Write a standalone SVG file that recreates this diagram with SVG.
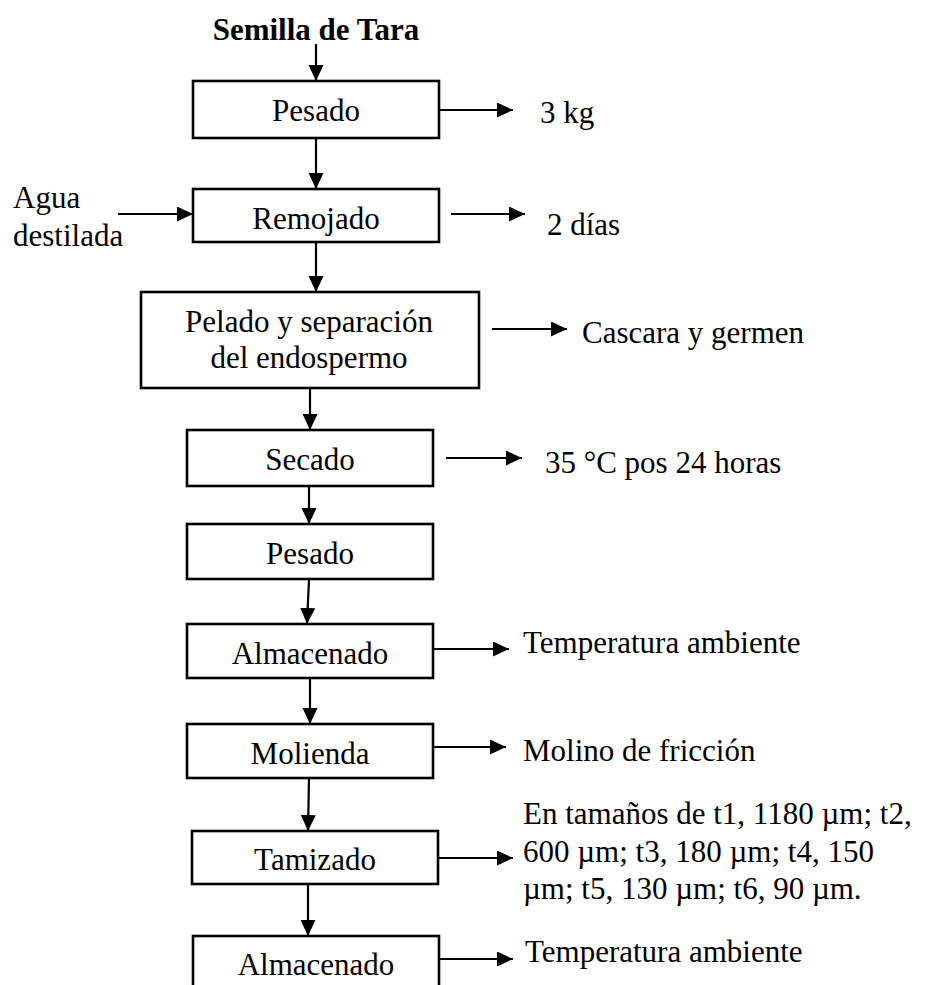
<svg xmlns="http://www.w3.org/2000/svg" width="925" height="985" viewBox="0 0 925 985">
<style>
text{font-family:"Liberation Serif","Times New Roman",serif;font-size:31px;fill:#000}
.c{text-anchor:middle}
.b{font-weight:bold}
.box{fill:#fff;stroke:#000;stroke-width:2.6}
.ln{stroke:#000;stroke-width:2.2;fill:none;marker-end:url(#ah)}
</style>
<defs>
<marker id="ah" markerUnits="userSpaceOnUse" markerWidth="17" markerHeight="16" refX="16" refY="7.5" orient="auto">
<path d="M0,0 L16,7.5 L0,15 Z" fill="#000"/>
</marker>
</defs>
<rect width="925" height="985" fill="#fff"/>
<g id="connectors">
<line class="ln" x1="316" y1="44" x2="316" y2="81"/>
<line class="ln" x1="316" y1="138" x2="316" y2="189"/>
<line class="ln" x1="316" y1="243" x2="316" y2="292"/>
<line class="ln" x1="310" y1="388" x2="310" y2="430"/>
<line class="ln" x1="309" y1="486" x2="309" y2="524"/>
<line class="ln" x1="309" y1="579" x2="307" y2="624"/>
<line class="ln" x1="310" y1="678" x2="310" y2="724"/>
<line class="ln" x1="309" y1="778" x2="308" y2="831"/>
<line class="ln" x1="308" y1="884" x2="308" y2="936"/>
<line class="ln" x1="118" y1="214" x2="193" y2="214"/>
<line class="ln" x1="439" y1="110" x2="513" y2="110"/>
<line class="ln" x1="451" y1="214" x2="525" y2="214"/>
<line class="ln" x1="492" y1="329" x2="567" y2="329"/>
<line class="ln" x1="446" y1="458" x2="522" y2="458"/>
<line class="ln" x1="433" y1="649" x2="509" y2="649"/>
<line class="ln" x1="433" y1="747" x2="506" y2="747"/>
<line class="ln" x1="438" y1="858" x2="513" y2="858"/>
<line class="ln" x1="439" y1="959" x2="513" y2="959"/>
</g>
<g id="input">
<text class="c b" x="316" y="40">Semilla de Tara</text>
</g>
<g id="agua">
<text x="13" y="208">Agua</text>
<text x="13" y="246">destilada</text>
</g>
<g id="pesado1">
<rect class="box" x="193" y="81" width="246" height="57"/>
<text class="c" x="316" y="121">Pesado</text>
</g>
<g id="remojado">
<rect class="box" x="193" y="189" width="246" height="53"/>
<text class="c" x="316" y="229">Remojado</text>
</g>
<g id="pelado">
<rect class="box" x="141" y="292" width="338" height="96"/>
<text class="c" x="309" y="332">Pelado y separación</text>
<text class="c" x="309" y="368">del endospermo</text>
</g>
<g id="secado">
<rect class="box" x="187" y="430" width="246" height="56"/>
<text class="c" x="310" y="470">Secado</text>
</g>
<g id="pesado2">
<rect class="box" x="187" y="524" width="246" height="55"/>
<text class="c" x="310" y="564">Pesado</text>
</g>
<g id="almacenado1">
<rect class="box" x="187" y="624" width="246" height="54"/>
<text class="c" x="310" y="664">Almacenado</text>
</g>
<g id="molienda">
<rect class="box" x="187" y="724" width="246" height="54"/>
<text class="c" x="310" y="764">Molienda</text>
</g>
<g id="tamizado">
<rect class="box" x="192" y="831" width="246" height="53"/>
<text class="c" x="315" y="870">Tamizado</text>
</g>
<g id="almacenado2">
<rect class="box" x="193" y="936" width="246" height="60"/>
<text class="c" x="316" y="975">Almacenado</text>
</g>
<g id="notes">
<text x="540" y="123">3 kg</text>
<text x="547" y="235">2 días</text>
<text x="582" y="343">Cascara y germen</text>
<text x="545" y="473">35 °C pos 24 horas</text>
<text x="523" y="653">Temperatura ambiente</text>
<text x="523" y="761">Molino de fricción</text>
<text x="523" y="824">En tamaños de t1, 1180 µm; t2,</text>
<text x="523" y="862">600 µm; t3, 180 µm; t4, 150</text>
<text x="523" y="899">µm; t5, 130 µm; t6, 90 µm.</text>
<text x="525" y="962">Temperatura ambiente</text>
</g>
</svg>
